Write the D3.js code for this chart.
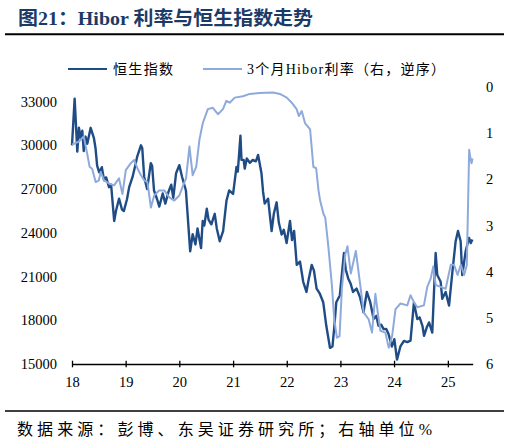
<!DOCTYPE html>
<html>
<head>
<meta charset="utf-8">
<script src="https://cdn.jsdelivr.net/npm/d3@7"></script>
<style>
  body { margin: 0; background: #fff; }
  svg text { font-family: "Liberation Serif", "Noto Sans CJK SC", serif; fill: #000; }
</style>
</head>
<body>
<svg id="chart"></svg>
<script>
// 恒生指数
const hsiDates = ["2018-01-01","2018-01-19","2018-02-06","2018-02-17","2018-03-01","2018-03-12","2018-03-22","2018-04-03","2018-04-15","2018-05-08","2018-05-30","2018-06-10","2018-06-21","2018-07-05","2018-07-23","2018-08-07","2018-08-21","2018-09-10","2018-09-24","2018-10-15","2018-10-27","2018-11-17","2018-12-07","2018-12-20",
  "2019-01-10","2019-01-25","2019-02-17","2019-03-07","2019-03-20","2019-04-15","2019-04-24","2019-05-07","2019-05-27","2019-06-21","2019-06-30","2019-07-13","2019-08-03","2019-08-18","2019-09-10","2019-09-28","2019-10-19","2019-11-07","2019-11-21","2019-12-10",
  "2020-01-01","2020-01-20","2020-02-15","2020-03-15","2020-04-01","2020-04-20","2020-05-04","2020-05-28","2020-06-08","2020-06-19","2020-07-06","2020-07-18","2020-08-06","2020-08-29","2020-09-12","2020-10-02","2020-10-25","2020-11-17","2020-12-05",
  "2021-01-01","2021-01-24","2021-02-02","2021-02-20","2021-02-27","2021-03-14","2021-03-21","2021-04-04","2021-04-25","2021-05-15","2021-06-05","2021-06-20","2021-07-13","2021-07-24","2021-08-04","2021-08-27","2021-09-20","2021-10-05","2021-10-24","2021-11-08","2021-11-27","2021-12-12","2021-12-31",
  "2022-01-23","2022-02-06","2022-02-20","2022-03-10","2022-04-01","2022-04-23","2022-05-15","2022-05-30","2022-06-20","2022-07-05","2022-07-23","2022-08-14","2022-09-06","2022-09-27","2022-10-22","2022-11-08","2022-11-20","2022-12-04","2022-12-28",
  "2023-01-25","2023-02-06","2023-02-23","2023-03-12","2023-03-28","2023-04-21","2023-05-14","2023-06-07","2023-06-30","2023-07-23","2023-08-15","2023-09-02","2023-09-17","2023-10-05","2023-10-22","2023-11-09","2023-11-25","2023-12-17",
  "2024-01-03","2024-01-21","2024-02-14","2024-03-08","2024-03-31","2024-04-22","2024-05-15","2024-06-07","2024-06-23","2024-07-12","2024-07-23","2024-08-10","2024-08-26","2024-09-17","2024-10-10","2024-10-21","2024-11-13","2024-11-24","2024-12-17",
  "2025-01-09","2025-02-01","2025-02-23","2025-03-11","2025-03-29","2025-04-09","2025-05-02","2025-05-25","2025-06-06","2025-06-17"];
const hsiValues = [30000,33200,29570,31200,30500,31000,29600,30600,30100,31200,30500,29800,28600,28150,28500,27600,27800,27130,27300,24810,25500,26340,25600,25500,
  26300,27130,27830,28600,29200,30000,29800,27830,27000,28780,28600,26900,26300,25800,26700,26000,26800,27300,26400,28080,
  28640,27830,26900,22730,23900,23200,24300,22950,24810,24500,25650,24900,24580,25300,24300,23420,24120,26200,26900,
  26670,28520,28200,30660,29000,29000,28400,29100,28800,29000,28900,29340,28080,26800,26000,26340,24120,25300,26090,24700,23880,24200,23300,
  24810,23500,24120,21800,22030,20640,19940,20800,21800,21400,20170,19820,19240,17620,16110,16200,17500,19240,19700,
  22610,21500,20870,20500,19940,20170,19600,18550,19940,19240,18080,18300,17620,17700,17390,17400,17040,16200,
  16700,15300,16230,16580,16500,16600,19200,18080,18200,17620,16930,17500,17850,17160,22610,21100,20640,19470,19940,
  19010,21330,23420,24120,23420,21100,22730,23650,23300,23540];

// 3个月Hibor利率（%）
const hiborDates = ["2018-01-01","2018-02-17","2018-03-22","2018-04-14","2018-05-01","2018-05-18","2018-06-11","2018-07-03","2018-07-15","2018-08-07","2018-09-10","2018-10-14","2018-11-17","2018-12-10",
  "2019-01-02","2019-02-05","2019-02-28","2019-03-22","2019-04-15","2019-05-07","2019-05-29","2019-06-22","2019-07-14","2019-08-17","2019-09-21","2019-10-25","2019-11-28",
  "2020-01-01","2020-02-05","2020-02-16","2020-03-10","2020-04-01","2020-04-25","2020-05-17","2020-06-09","2020-07-13","2020-08-16","2020-09-20","2020-10-24","2020-11-16","2020-12-09",
  "2021-01-12","2021-03-09","2021-04-24","2021-07-01","2021-09-30","2021-11-15",
  "2022-01-01","2022-02-04","2022-03-09","2022-03-25","2022-04-13","2022-05-05","2022-06-09","2022-07-01","2022-07-20","2022-08-05","2022-08-16","2022-09-08","2022-09-20","2022-10-12","2022-11-04","2022-11-20","2022-12-08","2022-12-26",
  "2023-01-11","2023-02-03","2023-02-18","2023-03-13","2023-04-16","2023-05-16","2023-06-08","2023-07-12","2023-08-04","2023-08-27","2023-09-12","2023-09-30","2023-11-03","2023-11-26","2023-12-19",
  "2024-01-11","2024-02-14","2024-03-31","2024-04-22","2024-05-15","2024-06-07","2024-07-22","2024-08-14","2024-09-06","2024-09-24","2024-10-10","2024-11-13","2024-12-17",
  "2025-01-21","2025-02-12","2025-03-08","2025-03-30","2025-04-22","2025-05-10","2025-05-26","2025-06-02","2025-06-11","2025-06-18"];
const hiborValues = [1.25,1.18,1.07,1.44,1.73,1.77,2.06,2.02,1.84,2.02,2.09,2.13,1.98,2.32,
  1.80,1.65,1.58,1.76,1.91,2.02,2.06,2.61,2.35,2.24,2.24,2.39,2.46,
  2.35,2.06,1.98,1.29,1.91,1.73,1.14,0.78,0.48,0.45,0.59,0.48,0.30,0.34,
  0.23,0.20,0.15,0.13,0.12,0.15,
  0.23,0.34,0.48,0.63,0.52,0.78,0.92,1.73,1.76,2.24,2.46,2.75,2.83,3.49,4.29,5.03,5.43,5.40,
  4.37,3.63,3.45,4.04,3.55,4.29,4.88,5.03,5.32,4.48,4.88,5.28,5.32,5.65,5.39,
  4.81,4.69,4.73,4.51,4.66,4.77,4.73,4.33,4.15,3.89,4.29,4.33,4.37,
  3.85,3.85,4.07,3.85,4.07,3.85,1.36,1.51,1.65,1.55];

const leftTicks = [15000, 18000, 21000, 24000, 27000, 30000, 33000];
const rightTicks = [0, 1, 2, 3, 4, 5, 6];
const yearTicks = ["2018","2019","2020","2021","2022","2023","2024","2025"];

const parse = d3.timeParse("%Y-%m-%d");
const parseYear = d3.timeParse("%Y");
const hsi = hsiDates.map((d, i) => ({date: parse(d), value: hsiValues[i]}));
const hibor = hiborDates.map((d, i) => ({date: parse(d), value: hiborValues[i]}));

const svg = d3.select("#chart").attr("width", 510).attr("height", 445);

const x = d3.scaleTime()
  .domain([parse("2018-01-01"), parse("2025-06-19")])
  .range([72, 472.7]);
const yL = d3.scaleLinear().domain([15000, 34000]).range([364, 87]);
const yR = d3.scaleLinear().domain([0, 6]).range([87, 364]);

// 标题
svg.append("text")
  .attr("x", 18).attr("y", 25)
  .attr("textLength", 295).attr("lengthAdjust", "spacingAndGlyphs")
  .style("font-family", "'Liberation Serif', 'Noto Sans CJK SC', serif")
  .style("font-size", "19px").style("font-weight", "bold")
  .style("fill", "#1c3a66")
  .text("图21：Hibor 利率与恒生指数走势");

svg.append("line").attr("x1", 5).attr("x2", 504).attr("y1", 34.3).attr("y2", 34.3)
  .attr("stroke", "#000").attr("stroke-width", 2);

// 图例
const legend = [
  {name: "恒生指数", color: "#204c86", x1: 68, x2: 107, tx: 113, tl: 60},
  {name: "3个月Hibor利率（右，逆序）", color: "#8eaadb", x1: 203, x2: 242, tx: 247, tl: 198}
];
legend.forEach(l => {
  svg.append("line").attr("x1", l.x1).attr("x2", l.x2).attr("y1", 69).attr("y2", 69)
    .attr("stroke", l.color).attr("stroke-width", 2.2);
  svg.append("text").attr("x", l.tx).attr("y", 74)
    .attr("textLength", l.tl).attr("lengthAdjust", "spacing")
    .style("font-size", "14px").text(l.name);
});

// 横轴
const xAxis = svg.append("g")
  .attr("transform", "translate(0,364)")
  .call(d3.axisBottom(x)
    .tickValues(yearTicks.map(parseYear))
    .tickFormat(d3.timeFormat("%y"))
    .tickSizeInner(3.3).tickSizeOuter(0).tickPadding(9));
xAxis.select(".domain").attr("stroke", "#000").attr("stroke-width", 1.3);
xAxis.selectAll(".tick line").attr("y1", -3.3).attr("stroke-width", 1.3);
xAxis.selectAll("text").style("font-size", "14.5px").style("font-family", "'Liberation Serif', serif").attr("fill", "#000");

// 左轴
const yAxisL = svg.append("g")
  .attr("transform", "translate(72,0)")
  .call(d3.axisLeft(yL).tickValues(leftTicks).tickFormat(d3.format("d")).tickSize(0).tickPadding(15));
yAxisL.select(".domain").remove();
yAxisL.selectAll("text").style("font-size", "14.5px").style("font-family", "'Liberation Serif', serif").attr("fill", "#000");

// 右轴（逆序）
const yAxisR = svg.append("g")
  .attr("transform", "translate(472.7,0)")
  .call(d3.axisRight(yR).tickValues(rightTicks).tickFormat(d3.format("d")).tickSize(0).tickPadding(17));
yAxisR.select(".domain").remove();
yAxisR.selectAll("text").attr("text-anchor", "middle")
  .style("font-size", "14.5px").style("font-family", "'Liberation Serif', serif").attr("fill", "#000");

// 折线
const lineL = d3.line().x(d => x(d.date)).y(d => yL(d.value));
const lineR = d3.line().x(d => x(d.date)).y(d => yR(d.value));

svg.append("path").datum(hsi)
  .attr("d", lineL).attr("fill", "none")
  .attr("stroke", "#204c86").attr("stroke-width", 2.4).attr("stroke-linejoin", "round");

svg.append("path").datum(hibor)
  .attr("d", lineR).attr("fill", "none")
  .attr("stroke", "#8eaadb").attr("stroke-width", 2).attr("stroke-linejoin", "round");

// 来源
svg.append("line").attr("x1", 5).attr("x2", 504).attr("y1", 411).attr("y2", 411)
  .attr("stroke", "#000").attr("stroke-width", 1.5);
svg.append("text").attr("x", 17).attr("y", 435)
  .attr("textLength", 415).attr("lengthAdjust", "spacing")
  .style("font-size", "16px")
  .text("数据来源：彭博、东吴证券研究所；右轴单位%");
</script>
</body>
</html>
